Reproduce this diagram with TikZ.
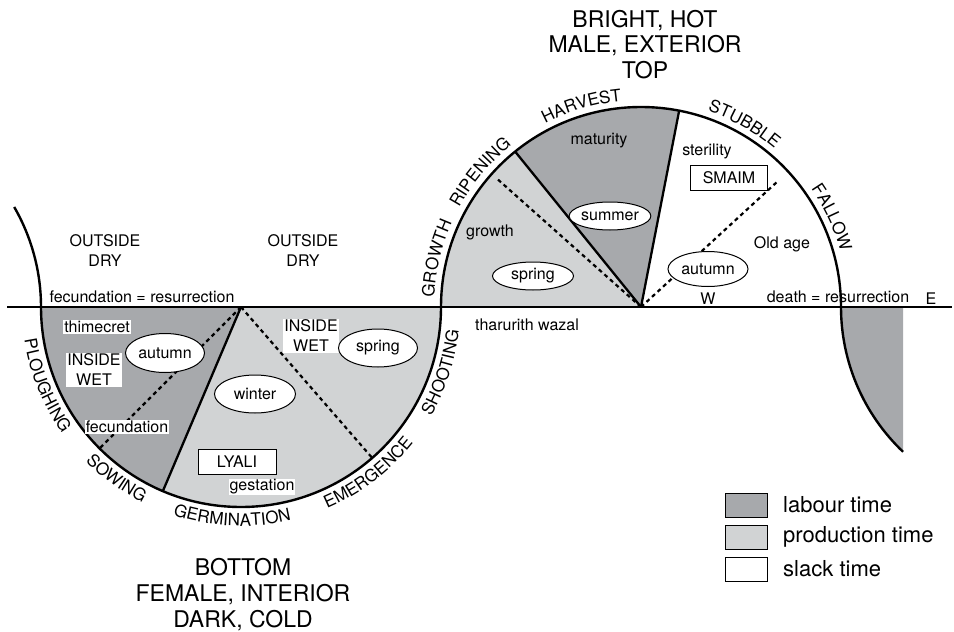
\documentclass[tikz,border=0pt]{standalone}
\usepackage{fontspec}
\setmainfont{TeX Gyre Heros}
\usetikzlibrary{shapes.geometric,decorations.text}
\definecolor{labourc}{HTML}{A7A9AC}
\definecolor{prodc}{HTML}{D1D3D4}
\newcommand{\arcfnt}{\fontsize{17}{17}\selectfont}
% center, radius, from angle, to angle, text
\newcommand{\arctext}[5]{%
  \path[decorate,decoration={text along path,text={|\arcfnt|#5},text align=center}]
    ([shift={(#3:#2)}]#1) arc (#3:#4:#2);}
\begin{document}
\begin{tikzpicture}[x=1pt,y=1pt,
  lbl/.style={font=\fontsize{16}{20}\selectfont, inner sep=1pt, align=center},
  wlbl/.style={lbl, fill=white},
  oval/.style={ellipse, draw, line width=1pt, fill=white, inner sep=0pt, font=\fontsize{16}{20}\selectfont},
  tag/.style={rectangle, draw, line width=1pt, fill=white, inner sep=0pt, font=\fontsize{16}{20}\selectfont},
  titletext/.style={font=\fontsize{23}{26}\selectfont, anchor=base, inner sep=0pt},
  heavy/.style={line width=2.4pt},
  divider/.style={line width=2.3pt},
  dashline/.style={line width=2.2pt, dash pattern=on 4pt off 3.5pt},
  legbox/.style={rectangle, draw, line width=0.8pt, minimum width=42pt, minimum height=24pt, inner sep=0pt},
  legtext/.style={anchor=west, inner sep=0pt, font=\fontsize{22}{24}\selectfont}
]
\useasboundingbox (0,0) rectangle (954,-632);

% key points
\coordinate (L) at (241,-307);
\coordinate (U) at (641,-307);
\coordinate (Lw) at (41,-307);
\coordinate (Le) at (441,-307);
\coordinate (Ue) at (841,-307);
\coordinate (Ax1) at (7,-307);
\coordinate (Ax2) at (952,-307);
\coordinate (Ls) at ([shift={(247:200)}]L);
\coordinate (Ld1) at ([shift={(225:200)}]L);
\coordinate (Ld2) at ([shift={(311:200)}]L);
\coordinate (Us1) at ([shift={(129:200)}]U);
\coordinate (Us2) at ([shift={(79:200)}]U);
\coordinate (Ud1) at ([shift={(138.3:195)}]U);
\coordinate (Ud2) at ([shift={(42.6:185)}]U);

% fills
\fill[labourc] (L) -- (Lw) arc (180:247:200) -- cycle;
\fill[prodc] (L) -- (Ls) arc (247:360:200) -- cycle;
\fill[prodc] (U) -- (Us1) arc (129:180:200) -- cycle;
\fill[labourc] (U) -- (Us2) arc (79:129:200) -- cycle;
\fill[labourc] (Ue) arc (180:226.4:200) |- (Ue) -- cycle;

% dashed dividers
\draw[dashline] (L) -- (Ld1);
\draw[dashline] (L) -- (Ld2);
\draw[dashline] (U) -- (Ud1);
\draw[dashline] (U) -- (Ud2);

% solid dividers
\draw[divider] (L) -- (Ls);
\draw[divider] (U) -- (Us1);
\draw[divider] (U) -- (Us2);

% arcs
\draw[heavy] (Lw) arc (180:360:200);
\draw[heavy] (Le) arc (180:0:200);
\draw[heavy] (Lw) arc (0:30:200);
\draw[heavy] (Ue) arc (180:226.4:200);

% axis
\draw[line width=2pt] (Ax1) -- (Ax2);

% arc labels
\arctext{L}{219}{162}{242}{PLOUGHING}
\arctext{L}{219}{194}{274}{SOWING}
\arctext{L}{219}{227.6}{307.6}{GERMINATION}
\arctext{L}{219}{267.5}{347.5}{EMERGENCE}
\arctext{L}{219}{302}{382}{SHOOTING}
\arctext{U}{207}{206.6}{126.6}{GROWTH}
\arctext{U}{207}{180}{100}{RIPENING}
\arctext{U}{207}{146.5}{66.5}{HARVEST}
\arctext{U}{207}{100.5}{20.5}{STUBBLE}
\arctext{U}{207}{65.1}{-14.9}{FALLOW}

% lower sector labels
\node[wlbl] (thim) at (97,-327) {thimecret};
\node[wlbl] (inw1) at (94,-370) {INSIDE\\WET};
\node[oval, minimum width=79pt, minimum height=39pt] (aut1) at (165,-353) {autumn};
\node[wlbl] (fecu) at (127,-427) {fecundation};
\node[oval, minimum width=81pt, minimum height=38pt] (wint) at (255,-394) {winter};
\node[tag, minimum width=78pt, minimum height=25pt] (lyali) at (237,-462) {LYALI};
\node[wlbl] (gest) at (262,-487) {gestation};
\node[wlbl] (inw2) at (311,-336) {INSIDE\\WET};
\node[oval, minimum width=79pt, minimum height=38pt] (spr1) at (378,-348) {spring};

% upper sector labels
\node[lbl] (grow) at (490,-232) {growth};
\node[oval, minimum width=81pt, minimum height=28pt] (spr2) at (533,-276) {spring};
\node[oval, minimum width=72pt, minimum height=28pt] (summ) at (610,-216) {summer};
\node[lbl] (matu) at (599,-141) {maturity};
\node[lbl] (ster) at (707,-151) {sterility};
\node[tag, minimum width=77pt, minimum height=25pt] (smaim) at (729,-178) {SMAIM};
\node[lbl] (olda) at (782,-244) {Old age};
\node[oval, minimum width=80pt, minimum height=35pt] (aut2) at (708,-269) {autumn};
\node[lbl] (west) at (708,-299) {W};
\node[lbl] (death) at (838,-297) {death = resurrection};
\node[lbl] (east) at (931,-299) {E};
\node[lbl, anchor=west] (thar) at (474,-325) {tharurith wazal};

% outside labels
\node[lbl] (out1) at (105,-251) {OUTSIDE\\DRY};
\node[lbl] (out2) at (303,-251) {OUTSIDE\\DRY};
\node[lbl] (fecres) at (142,-297) {fecundation = resurrection};

% titles
\node[titletext] (t1) at (645,-27) {BRIGHT, HOT};
\node[titletext] (t2) at (645,-52.5) {MALE, EXTERIOR};
\node[titletext] (t3) at (645,-78) {TOP};
\node[titletext] (b1) at (243,-575) {BOTTOM};
\node[titletext] (b2) at (243,-601) {FEMALE, INTERIOR};
\node[titletext] (b3) at (243,-627) {DARK, COLD};

% legend
\node[legbox, fill=labourc] (k1) at (746,-505) {};
\node[legbox, fill=prodc] (k2) at (746,-537) {};
\node[legbox, fill=white] (k3) at (746,-569) {};
\node[legtext] (k1t) at (783,-505) {labour time};
\node[legtext] (k2t) at (783,-537) {production time};
\node[legtext] (k3t) at (783,-569) {slack time};
\end{tikzpicture}
\end{document}
